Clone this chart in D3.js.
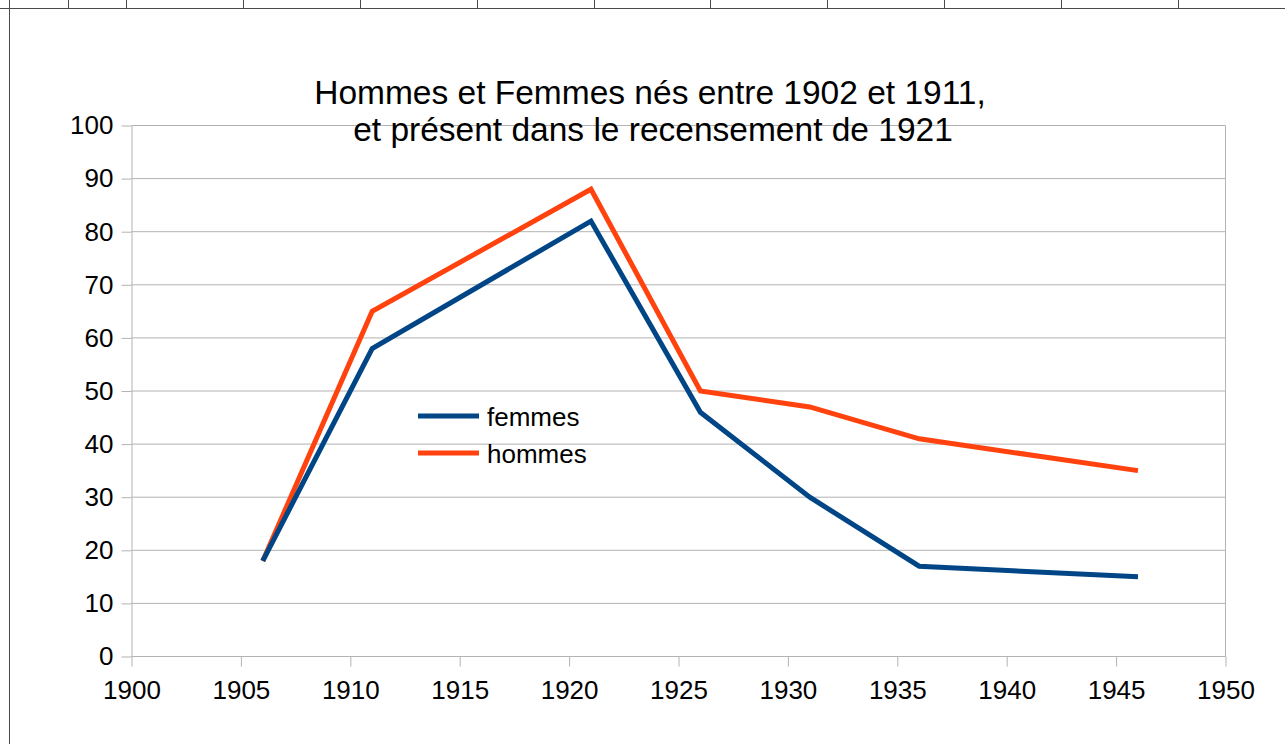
<!DOCTYPE html>
<meta charset="utf-8">
<style>
body { margin: 0; background: #fff; }
svg { display: block; font-family: "Liberation Sans", Arial, sans-serif; }
.grid line { stroke: #b3b3b3; stroke-width: 1; }
.axis path, .axis line { stroke: #b3b3b3; }
.axis text { fill: #000; font-size: 26px; }
</style>
<body>
<script src="https://d3js.org/d3.v7.min.js"></script>
<script>

// data
var years   = [1906, 1911, 1921, 1926, 1931, 1936, 1946];
var femmes  = [18, 58, 82, 46, 30, 17, 15];
var hommes  = [18, 65, 88, 50, 47, 41, 35];
var xTicks  = [1900, 1905, 1910, 1915, 1920, 1925, 1930, 1935, 1940, 1945, 1950];
var yTicks  = [0, 10, 20, 30, 40, 50, 60, 70, 80, 90, 100];
var colLines = [9, 68, 126, 243, 360, 477, 594, 710, 827, 944, 1061, 1178];

var W = 1285, H = 744;
var svg = d3.select("body").append("svg").attr("width", W).attr("height", H);

// spreadsheet cell borders behind the chart
svg.append("line").attr("x1", 0).attr("x2", W).attr("y1", 8.5).attr("y2", 8.5)
    .attr("stroke", "#4a4a4a");
svg.selectAll(".col").data(colLines).enter().append("line")
    .attr("x1", function(d) { return d + 0.5; })
    .attr("x2", function(d) { return d + 0.5; })
    .attr("y1", 0)
    .attr("y2", function(d, i) { return i === 0 ? H : 8; })
    .attr("stroke", "#4a4a4a");

// scales
var x = d3.scaleLinear().domain([1900, 1950]).range([131.5, 1225.5]);
var y = d3.scaleLinear().domain([0, 100]).range([656.5, 125.5]);

// gridlines
svg.append("g").attr("class", "grid")
  .selectAll("line").data(yTicks).enter().append("line")
    .attr("x1", x(1900)).attr("x2", x(1950))
    .attr("y1", function(d) { return y(d); })
    .attr("y2", function(d) { return y(d); });

svg.append("line").attr("x1", x(1950)).attr("x2", x(1950))
    .attr("y1", y(100)).attr("y2", y(0)).attr("stroke", "#b3b3b3");

// axes
svg.append("g").attr("class", "axis")
    .attr("transform", "translate(0," + y(0) + ")")
    .call(d3.axisBottom(x).tickValues(xTicks).tickFormat(d3.format("d"))
      .tickSize(10).tickSizeOuter(0).tickPadding(14))
    .call(function(g) { g.select(".domain").remove(); });

svg.append("g").attr("class", "axis")
    .attr("transform", "translate(" + x(1900) + ",0)")
    .call(d3.axisLeft(y).tickValues(yTicks).tickSize(10).tickSizeOuter(0).tickPadding(8));

// lines
var line = d3.line()
    .x(function(d, i) { return x(years[i]); })
    .y(function(d) { return y(d); });

var series = [
  {name: "hommes", values: hommes, color: "#ff420e"},
  {name: "femmes", values: femmes, color: "#004586"}
];

series.forEach(function(s) {
  svg.append("path")
      .datum(s.values)
      .attr("d", line)
      .attr("fill", "none")
      .attr("stroke", s.color)
      .attr("stroke-width", 5)
      .attr("stroke-linejoin", "miter")
      .attr("stroke-linecap", "butt");
});

// legend
var legend = svg.append("g")
    .selectAll("g")
    .data(series.slice().reverse())
    .enter().append("g")
      .attr("transform", function(d, i) { return "translate(418," + (416 + i * 37) + ")"; });

legend.append("line")
    .attr("x1", 0).attr("x2", 61)
    .attr("stroke", function(d) { return d.color; })
    .attr("stroke-width", 5);

legend.append("text")
    .attr("x", 69)
    .attr("y", 10)
    .style("font-size", "26px")
    .text(function(d) { return d.name; });

// title
var title = svg.append("text")
    .attr("text-anchor", "middle")
    .style("font-size", "33.5px");
title.append("tspan").attr("x", 650).attr("y", 104).text("Hommes et Femmes nés entre 1902 et 1911,");
title.append("tspan").attr("x", 653).attr("y", 141).text("et présent dans le recensement de 1921");

</script>
</body>
